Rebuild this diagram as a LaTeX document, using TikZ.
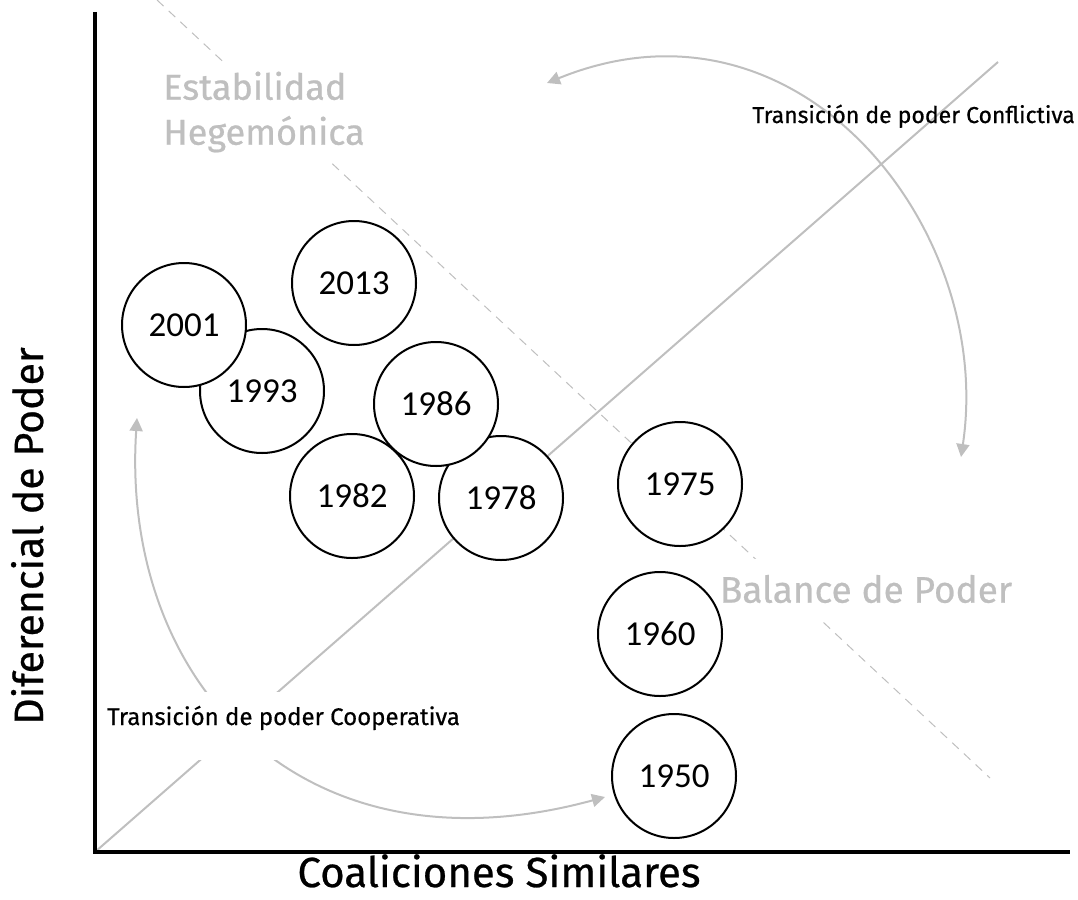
\documentclass[tikz,border=0pt]{standalone}
\usepackage{fontspec}
\usepackage{tikz}
\usetikzlibrary{arrows.meta}
\newfontfamily\labelfont[FakeBold=0.6]{Fira Sans}
\newfontfamily\yearfont{Carlito}
\definecolor{lightline}{RGB}{191,191,191}

\begin{document}
\begin{tikzpicture}[x=1pt, y=-1pt, year/.style={circle, draw=black, line width=2pt, fill=white, minimum size=124pt, inner sep=0pt, font=\yearfont\fontsize{35}{40}\selectfont}, zone/.style={fill=white, text=lightline, font=\labelfont\fontsize{36}{45}\selectfont}, flow/.style={draw=lightline, line width=2pt, {Triangle[length=13pt,width=13pt]}-{Triangle[length=13pt,width=13pt]}}, axislabel/.style={font=\labelfont\fontsize{42}{48}\selectfont}, smalllabel/.style={font=\labelfont\fontsize{23}{27}\selectfont}]
\useasboundingbox (0,0) rectangle (1078,899);
\coordinate (dashtop) at (157,0);
\coordinate (dashend) at (990,778);
\coordinate (origin) at (95,852);
\coordinate (ytop) at (95,12);
\coordinate (xend) at (1070,852);
\coordinate (diagend) at (998,62);
\coordinate (confa) at (547,83);
\coordinate (confb) at (961,457);
\coordinate (coopa) at (137,418);
\coordinate (coopb) at (605,797);
\draw[lightline, line width=1pt, dash pattern=on 9pt off 7pt] (dashtop) -- (dashend);
\draw[lightline, line width=2pt] (origin) -- (diagend);
\draw[flow] (confa) .. controls (800,-20) and (995,230) .. (confb);
\draw[flow] (coopa) .. controls (120,680) and (300,880) .. (coopb);
\node[zone, align=left, inner sep=10pt] (hegemonia) at (264,112) {Estabilidad\\Hegemónica};
\node[zone, font=\labelfont\fontsize{37}{45}\selectfont, inner xsep=8pt, inner ysep=16pt] (balance) at (866,589) {Balance de Poder};
\node[smalllabel, font=\labelfont\fontsize{24}{28}\selectfont, fill=white, anchor=base west, inner xsep=5pt, inner ysep=0pt, text height=33pt, text depth=35pt] (coop) at (102,725) {Transición de poder Cooperativa};
\node[smalllabel, anchor=base east, inner sep=0pt] (conf) at (1075,123) {Transición de poder Conflictiva};
\node[year] (y2013) at (354,283) {2013};
\node[year] (y1993) at (262,391) {1993};
\node[year] (y2001) at (184,325) {2001};
\node[year] (y1982) at (352,496) {1982};
\node[year] (y1978) at (501,498) {1978};
\node[year] (y1986) at (436,404) {1986};
\node[year] (y1975) at (680,484) {1975};
\node[year] (y1960) at (660,634) {1960};
\node[year] (y1950) at (674,776) {1950};
\draw[line width=4pt] (ytop) -- (origin) -- (xend);
\node[axislabel, anchor=base] (xlabel) at (499,887) {Coaliciones Similares};
\node[axislabel, font=\labelfont\fontsize{41}{48}\selectfont, rotate=90, anchor=base] (ylabel) at (43,536) {Diferencial de Poder};
\end{tikzpicture}
\end{document}
